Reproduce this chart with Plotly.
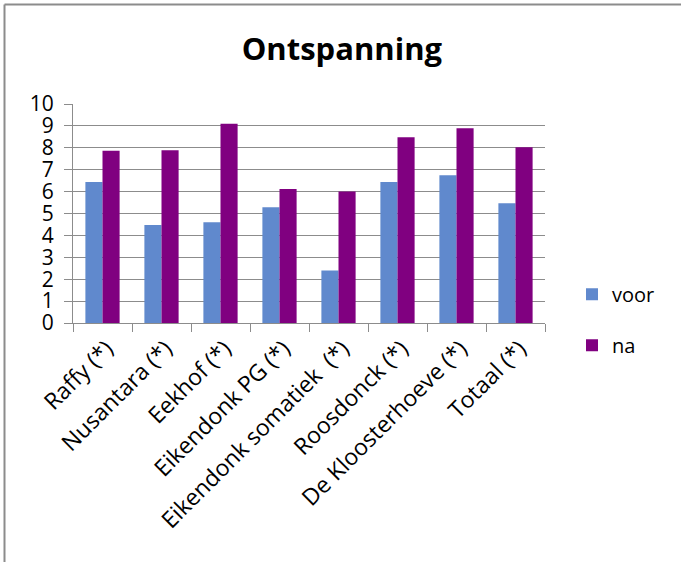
import plotly.graph_objects as go

categories = ["Raffy (*)", "Nusantara (*)", "Eekhof (*)", "Eikendonk PG (*)",
              "Eikendonk somatiek  (*)", "Roosdonck (*)", "De Kloosterhoeve (*)", "Totaal (*)"]
voor = [6.44, 4.47, 4.60, 5.29, 2.40, 6.44, 6.75, 5.47]
na = [7.86, 7.89, 9.10, 6.12, 6.00, 8.48, 8.89, 8.03]
y_ticks = list(range(0, 11))

FONT = "Open Sans"

fig = go.Figure()
fig.add_trace(go.Bar(name="voor", x=categories, y=voor, marker_color="#6089CD",
                     marker_line_width=0, legendgroup="a"))
fig.add_trace(go.Bar(name="na", x=categories, y=na, marker_color="#800080",
                     marker_line_width=0, legendgroup="b"))

fig.update_layout(
    width=681, height=562,
    margin=dict(l=73, r=136, t=104, b=239, pad=0),
    paper_bgcolor="white", plot_bgcolor="white",
    barmode="group", bargap=0.42, bargroupgap=0,
    title=dict(text="<b>Ontspanning</b>", x=0.502, xanchor="center", y=0.912, yanchor="middle",
               font=dict(family=FONT, size=31, color="black")),
    font=dict(family=FONT, color="black"),
    legend=dict(x=(572 - 73) / 472, xanchor="left", y=0.22, yanchor="top",
                font=dict(family=FONT, size=20, color="black"),
                tracegroupgap=22, itemwidth=30, bgcolor="rgba(0,0,0,0)"),
    showlegend=True,
)
fig.update_yaxes(range=[0, 10], tickvals=y_ticks, showgrid=True, gridcolor="#8C8C8C", gridwidth=1,
                 showline=True, linecolor="#8C8C8C", linewidth=1,
                 ticks="outside", ticklen=8, tickcolor="#8C8C8C", ticklabelstandoff=6,
                 tickfont=dict(family=FONT, size=21, color="black"), zeroline=False, fixedrange=True)
fig.update_xaxes(showline=True, linecolor="#8C8C8C", linewidth=1,
                 ticks="outside", tickson="boundaries", ticklen=8, tickcolor="#8C8C8C",
                 tickangle=-45, ticklabelshift=4, ticklabelstandoff=2,
                 tickfont=dict(family=FONT, size=23, color="black"), fixedrange=True)

# chart frame (top and left border)
fig.add_shape(type="line", xref="paper", yref="paper",
              x0=(4.5 - 73) / 472, x1=(681 - 73) / 472, y0=(562 - 239 - 4.5) / 219, y1=(562 - 239 - 4.5) / 219,
              line=dict(color="#8C8C8C", width=2))
fig.add_shape(type="line", xref="paper", yref="paper",
              x0=(4.5 - 73) / 472, x1=(4.5 - 73) / 472, y0=(562 - 239 - 4.5) / 219, y1=-239 / 219,
              line=dict(color="#8C8C8C", width=2))

fig.write_html("out.html")
